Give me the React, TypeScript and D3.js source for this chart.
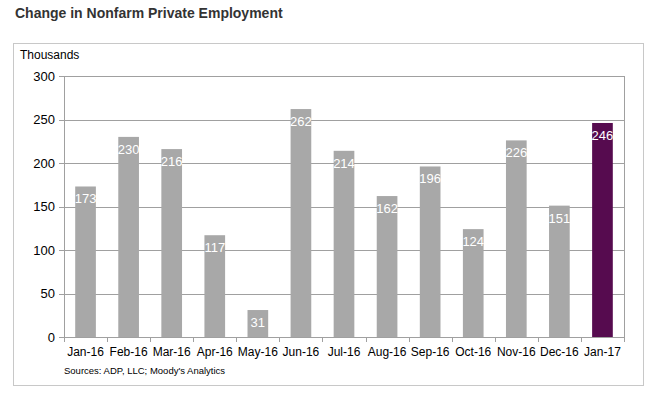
import React from 'react';
import * as d3 from 'd3';

const months = ['Jan-16', 'Feb-16', 'Mar-16', 'Apr-16', 'May-16', 'Jun-16', 'Jul-16', 'Aug-16', 'Sep-16', 'Oct-16', 'Nov-16', 'Dec-16', 'Jan-17'];
const values = [173, 230, 216, 117, 31, 262, 214, 162, 196, 124, 226, 151, 246];
const yTicks = [0, 50, 100, 150, 200, 250, 300];

const W = 666;
const H = 395;
const plot = { left: 64, right: 624, top: 76, bottom: 337 };
const font = 'Arial, "Liberation Sans", sans-serif';

export default function App() {
  const x = d3.scaleBand<string>()
    .domain(months)
    .range([plot.left, plot.right])
    .paddingInner(0.52)
    .paddingOuter(0.26);

  const y = d3.scaleLinear()
    .domain([0, 300])
    .range([plot.bottom, plot.top]);

  const step = x.step();
  // tick positions between categories
  const boundaries = d3.range(months.length + 1).map(i => plot.left + (plot.right - plot.left) * i / months.length);

  return (
    <svg width={W} height={H} style={{ position: 'absolute', left: 0, top: 0, fontFamily: font }}>
      <rect x={0} y={0} width={W} height={H} fill="#fff" />
      <text x={15} y={18} fontSize={14} fontWeight="bold" fill="#333">Change in Nonfarm Private Employment</text>

      <rect x={13.5} y={43.5} width={630} height={342} fill="none" stroke="#c8c8c8" />
      <text x={20} y={59} fontSize={12} fill="#000">Thousands</text>

      {/* gridlines */}
      {yTicks.map(t => (
        <line key={t} x1={plot.left} x2={plot.right} y1={Math.round(y(t)) + 0.5} y2={Math.round(y(t)) + 0.5} stroke="#a0a0a0" strokeWidth={1} />
      ))}
      <line x1={plot.right + 0.5} x2={plot.right + 0.5} y1={plot.top} y2={plot.bottom} stroke="#a0a0a0" />

      {/* y axis */}
      <line x1={plot.left + 0.5} x2={plot.left + 0.5} y1={plot.top} y2={plot.bottom} stroke="#a0a0a0" />
      {yTicks.map(t => (
        <g key={'yt' + t}>
          <line x1={plot.left - 5} x2={plot.left} y1={Math.round(y(t)) + 0.5} y2={Math.round(y(t)) + 0.5} stroke="#a0a0a0" />
          <text x={55} y={y(t) + 4.5} fontSize={13} textAnchor="end" fill="#000">{t}</text>
        </g>
      ))}

      {/* bars */}
      {months.map((m, i) => {
        const v = values[i];
        const last = i === months.length - 1;
        return (
          <g key={m}>
            <rect x={x(m)} y={y(v)} width={x.bandwidth()} height={y(0) - y(v)} fill={last ? '#560b4f' : '#a8a8a8'} />
            <text x={(x(m) || 0) + x.bandwidth() / 2} y={y(v) + 17} fontSize={13} textAnchor="middle" fill="#fff">{v}</text>
          </g>
        );
      })}

      {/* x axis ticks */}
      {boundaries.map((b, i) => (
        <line key={'xt' + i} x1={Math.round(b) + 0.5} x2={Math.round(b) + 0.5} y1={plot.bottom} y2={plot.bottom + 5} stroke="#a0a0a0" />
      ))}
      {months.map(m => (
        <text key={'xl' + m} x={(x(m) || 0) + x.bandwidth() / 2} y={356} fontSize={12} textAnchor="middle" fill="#000">{m}</text>
      ))}
      <text x={plot.left} y={374} fontSize={9.5} fill="#000">Sources: ADP, LLC; Moody's Analytics</text>
      {step > 0 ? null : null}
    </svg>
  );
}
